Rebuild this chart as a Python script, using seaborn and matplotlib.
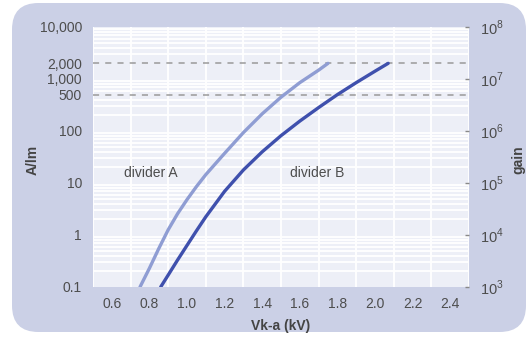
import matplotlib
matplotlib.use("Agg")
import matplotlib.pyplot as plt
from matplotlib.patches import FancyBboxPatch
from matplotlib.ticker import FixedLocator, NullFormatter, LogLocator
import seaborn as sns
import pandas as pd
import numpy as np

# ---- data ----
a_x = [0.75, 0.80, 0.85, 0.90, 0.95, 1.00, 1.05, 1.10, 1.20, 1.30, 1.40, 1.50, 1.60, 1.70, 1.75]
a_y = [0.10, 0.229, 0.55, 1.26, 2.57, 4.79, 8.51, 14.5, 37.2, 93.3, 214, 447, 851, 1479, 2000]
b_x = [0.86, 0.90, 0.95, 1.00, 1.05, 1.10, 1.20, 1.30, 1.40, 1.50, 1.60, 1.70, 1.80, 1.90, 2.00, 2.07]
b_y = [0.10, 0.17, 0.331, 0.631, 1.20, 2.24, 6.92, 17.8, 39.8, 81.3, 155, 282, 501, 851, 1413, 2000]
series_names = ["divider A", "divider B"]
x_ticks = [0.6, 0.8, 1.0, 1.2, 1.4, 1.6, 1.8, 2.0, 2.2, 2.4]
x_tick_labels = ["0.6", "0.8", "1.0", "1.2", "1.4", "1.6", "1.8", "2.0", "2.2", "2.4"]
y_ticks = [0.1, 1, 10, 100, 500, 1000, 2000, 10000]
y_tick_labels = ["0.1", "1", "10", "100", "500", "1,000", "2,000", "10,000"]
dashed_levels = [500, 2000]
gain_ticks = [1e3, 1e4, 1e5, 1e6, 1e7, 1e8]
gain_tick_labels = ["$10^{3}$", "$10^{4}$", "$10^{5}$", "$10^{6}$", "$10^{7}$", "$10^{8}$"]

df = pd.DataFrame({
    "V": a_x + b_x,
    "A": a_y + b_y,
    "divider": [series_names[0]] * len(a_x) + [series_names[1]] * len(b_x),
})

sns.set_style("white")
plt.rcParams["font.family"] = ["Liberation Sans", "DejaVu Sans"]
plt.rcParams["mathtext.fontset"] = "custom"
plt.rcParams["mathtext.rm"] = "Liberation Sans"

W, H = 529, 341
fig = plt.figure(figsize=(W / 100, H / 100), dpi=100)
fig.patch.set_facecolor("white")

panel = FancyBboxPatch((12 / W, 9 / H), (514 / W), (329 / H),
                       boxstyle="round,pad=0,rounding_size=0.05",
                       transform=fig.transFigure, facecolor="#cbd0e6",
                       edgecolor="none", zorder=-10, mutation_aspect=W / H)
fig.patches.append(panel)

ax = fig.add_axes([93 / W, 1 - 287 / H, (469 - 93) / W, (287 - 27) / H])
ax.set_zorder(1)
ax.set_facecolor("#edeff7")
ax.set_yscale("log")
ax.set_xlim(0.5, 2.5)
ax.set_ylim(0.1, 10000)

# grid
ax.xaxis.set_minor_locator(FixedLocator(np.round(np.arange(0.5, 2.51, 0.1), 2)))
ax.yaxis.set_minor_locator(LogLocator(base=10, subs=np.arange(1, 10)))
ax.yaxis.set_minor_formatter(NullFormatter())
ax.grid(which="minor", axis="both", color="white", lw=1.3)
ax.set_axisbelow(True)

palette = {series_names[0]: "#8f9dd3", series_names[1]: "#3f50ad"}
sns.lineplot(data=df, x="V", y="A", hue="divider", palette=palette, lw=2.4,
             ax=ax, legend=False, sort=False, estimator=None)

for lv in dashed_levels:
    ax.axhline(lv, color="#9a9a9a", lw=1.1, ls=(0, (4, 4)), zorder=1, clip_on=False)

FS = 10
ax.set_xticks(x_ticks)
ax.set_xticklabels(x_tick_labels)
ax.set_yticks(y_ticks)
ax.set_yticklabels(y_tick_labels)
ax.tick_params(axis="both", which="both", length=0, labelsize=FS,
               labelcolor="#4d4d4d")
ax.tick_params(axis="x", pad=7)
ax.tick_params(axis="y", pad=8)
for s in ax.spines.values():
    s.set_visible(False)

ax.set_xlabel("Vk-a (kV)", fontsize=FS, fontweight="bold", color="#444444", labelpad=6)
ax.set_ylabel("A/lm", fontsize=FS, fontweight="bold", color="#444444")
ax.yaxis.set_label_coords(-0.141, 0.49)

ax.text(0.81, 15.5, series_names[0], fontsize=FS, color="#4d4d4d", ha="center", va="center")
ax.text(1.69, 15.5, series_names[1], fontsize=FS, color="#4d4d4d", ha="center", va="center")

ax2 = ax.twinx()
ax2.set_zorder(2)
ax2.patch.set_visible(False)
ax2.set_yscale("log")
ax2.set_ylim(1e3, 1e8)
ax2.set_yticks(gain_ticks)
ax2.set_yticklabels(gain_tick_labels)
ax2.yaxis.set_minor_formatter(NullFormatter())
ax2.tick_params(axis="y", which="minor", length=0)
ax2.tick_params(axis="y", which="major", direction="in", length=3, width=1,
                color="#888888", labelsize=FS + 0.5, labelcolor="#4d4d4d", pad=8)
for s in ax2.spines.values():
    s.set_visible(False)
ax2.set_ylabel("gain", fontsize=FS, fontweight="bold", color="#444444")
ax2.yaxis.set_label_coords(1.112, 0.49)

fig.savefig("out.png", dpi=100, facecolor=fig.get_facecolor())
